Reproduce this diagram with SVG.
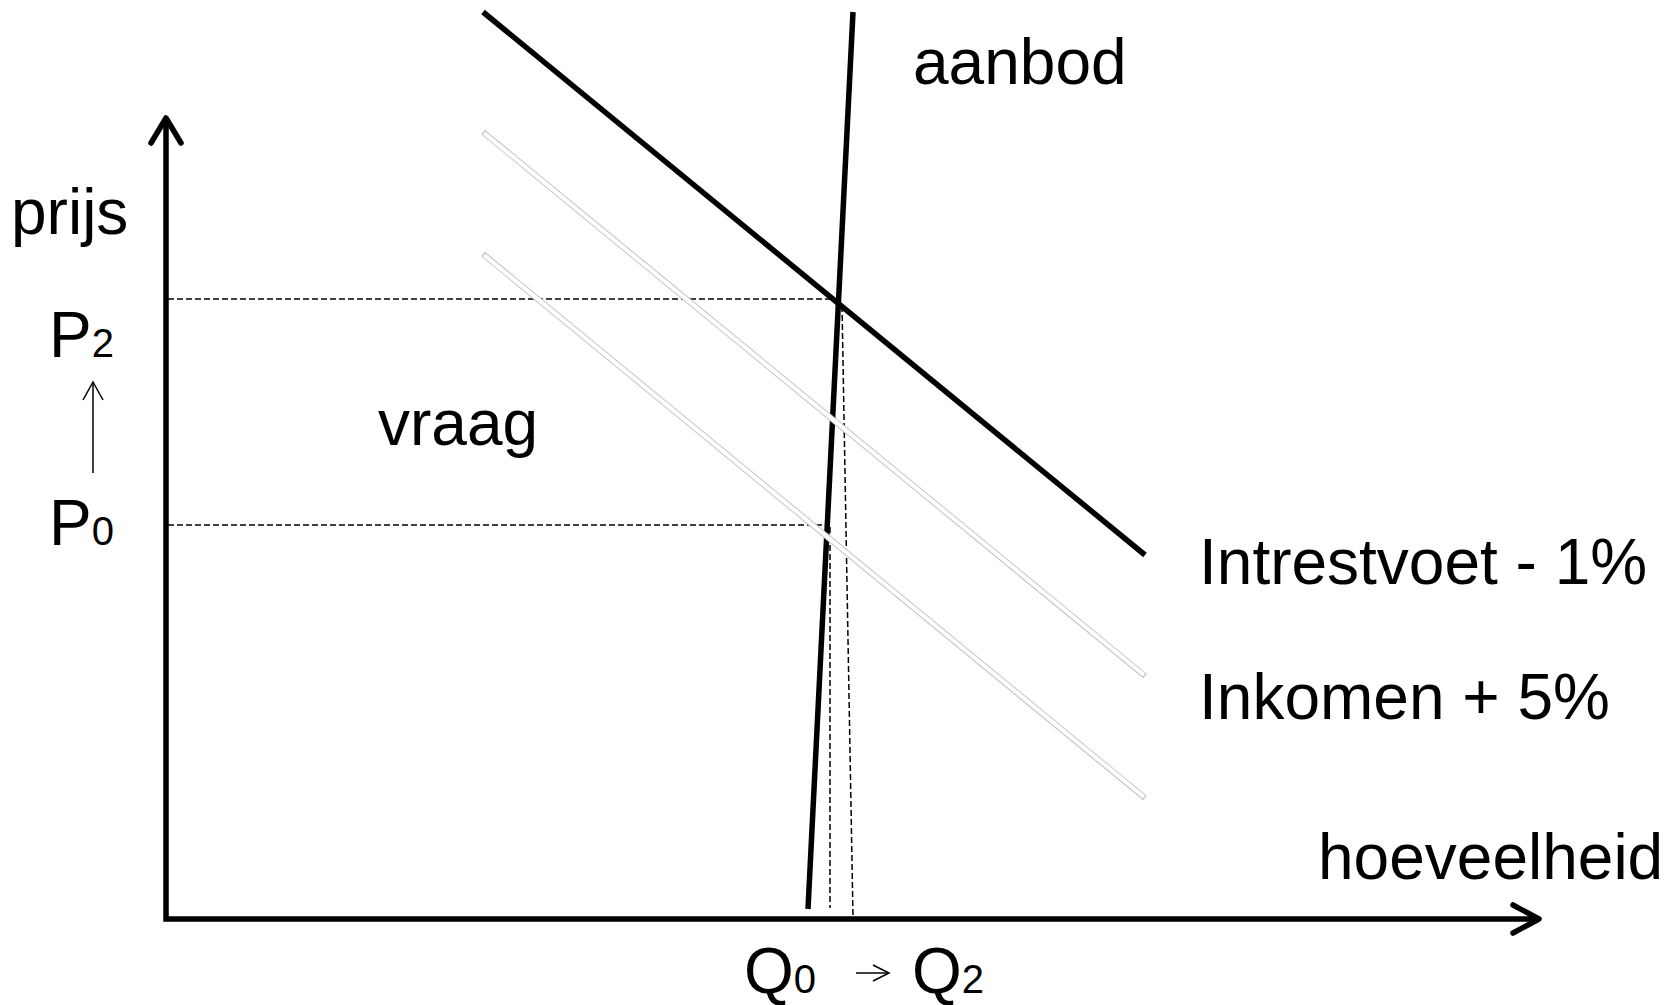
<svg xmlns="http://www.w3.org/2000/svg" width="1680" height="1005" viewBox="0 0 1680 1005">
<style>
text{font-family:"Liberation Sans",Arial,sans-serif;font-size:64px;fill:#000}
.sub{font-size:40px}
.axis{stroke:#000;stroke-width:5.5;fill:none}
.head{stroke:#000;stroke-width:5.5;fill:none;stroke-linecap:round;stroke-linejoin:round}
.dash{stroke:#000;stroke-width:1.5;stroke-dasharray:6 3;fill:none}
.curve{stroke:#000;stroke-width:5.5;fill:none}
.hollowO{stroke:#c4c4c4;stroke-width:6;fill:none}
.hollowI{stroke:#fff;stroke-width:4;fill:none}
.thin{stroke:#000;stroke-width:1.5;fill:none}
</style>
<rect width="1680" height="1005" fill="#fff"/>
<g id="axes">
<path class="axis" d="M166,121 V919 H1537"/>
<path class="head" d="M151,143 L166,118 L181,143"/>
<path class="head" d="M1513,905 L1539,919 L1513,933"/>
</g>
<g id="connectors">
<line class="dash" x1="168" y1="299" x2="838" y2="299"/>
<line class="dash" x1="168" y1="525" x2="828" y2="525"/>
<line class="dash" x1="830" y1="527" x2="830" y2="908"/>
<line class="dash" x1="842" y1="306" x2="853" y2="917"/>
</g>
<g id="demand">
<line class="curve" x1="483" y1="12" x2="1145" y2="555"/>
</g>
<g id="supply">
<line class="curve" x1="853" y1="12" x2="808" y2="909"/>
</g>
<g id="shift-interest">
<line class="hollowO" x1="483" y1="132" x2="1145" y2="676"/>
<line class="hollowI" x1="484" y1="133" x2="1144" y2="675"/>
</g>
<g id="shift-income">
<line class="hollowO" x1="483" y1="254" x2="1145" y2="798"/>
<line class="hollowI" x1="484" y1="255" x2="1144" y2="797"/>
</g>
<g id="labels">
<text x="11" y="234">prijs</text>
<text x="49" y="357">P<tspan class="sub">2</tspan></text>
<text x="49" y="545">P<tspan class="sub">0</tspan></text>
<line class="thin" x1="93" y1="473" x2="93" y2="383"/>
<path class="thin" d="M83,400 L93,382 L103,400"/>
<text x="913" y="84">aanbod</text>
<text x="378" y="445">vraag</text>
<text x="1199" y="584">Intrestvoet - 1%</text>
<text x="1199" y="719">Inkomen + 5%</text>
<text x="1318" y="879">hoeveelheid</text>
<text x="744" y="993">Q<tspan class="sub">0</tspan></text>
<line class="thin" x1="856" y1="973" x2="888" y2="973"/>
<path class="thin" d="M873,965 L889,973 L873,981"/>
<text x="912" y="993">Q<tspan class="sub">2</tspan></text>
</g>
</svg>
